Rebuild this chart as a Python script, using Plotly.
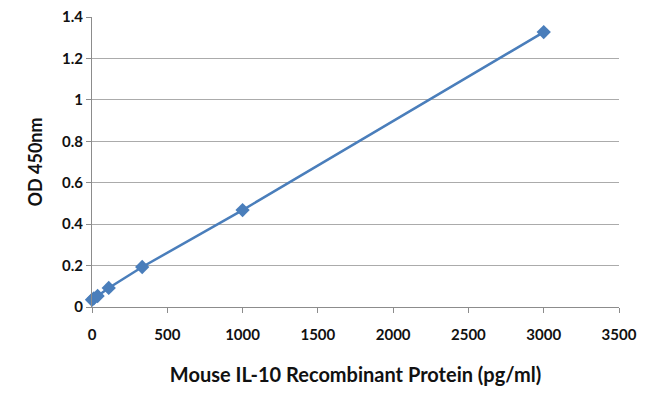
import plotly.graph_objects as go

conc = [0, 12.35, 37.04, 111.1, 333.3, 1000, 3000]
od450 = [0.035, 0.042, 0.053, 0.092, 0.193, 0.468, 1.327]
x_ticks = [0, 500, 1000, 1500, 2000, 2500, 3000, 3500]
y_ticks = [0, 0.2, 0.4, 0.6, 0.8, 1, 1.2, 1.4]
y_labels = ["0", "0.2", "0.4", "0.6", "0.8", "1", "1.2", "1.4"]

blue = "#4A7EBB"
font_fam = "Lato, 'Open Sans', sans-serif"

fig = go.Figure()
fig.add_trace(go.Scatter(
    x=conc, y=od450, mode="lines+markers",
    line=dict(color=blue, width=2.5),
    marker=dict(symbol="diamond", size=11, color=blue),
    showlegend=False, cliponaxis=False,
))

fig.update_layout(
    width=634, height=383,
    margin=dict(l=84, r=23, t=9, b=84),
    paper_bgcolor="white", plot_bgcolor="white",
    font=dict(family=font_fam, color="#111111"),
)
fig.update_xaxes(
    range=[0, 3500], tickvals=x_ticks, automargin=False,
    showgrid=False, zeroline=False,
    showline=True, linecolor="#8c8c8c", linewidth=1,
    ticks="outside", ticklen=5, tickcolor="#8c8c8c",
    ticklabelstandoff=9, ticklabeloverflow="allow",
    tickfont=dict(size=15, family=font_fam, weight="bold"),
    title=dict(text="<b>Mouse IL-10 Recombinant Protein (pg/ml)</b>",
               font=dict(size=20, family=font_fam), standoff=25),
)
fig.update_yaxes(
    range=[0, 1.4], tickvals=y_ticks, ticktext=y_labels, automargin=False,
    showgrid=True, gridcolor="#ababab", gridwidth=1, zeroline=False,
    showline=True, linecolor="#8c8c8c", linewidth=1,
    ticks="outside", ticklen=5, tickcolor="#8c8c8c",
    ticklabeloverflow="allow",
    tickfont=dict(size=15, family=font_fam, weight="bold"),
    title=dict(text="<b>OD 450nm</b>",
               font=dict(size=18, family=font_fam), standoff=14),
)

fig.write_html("out.html")
